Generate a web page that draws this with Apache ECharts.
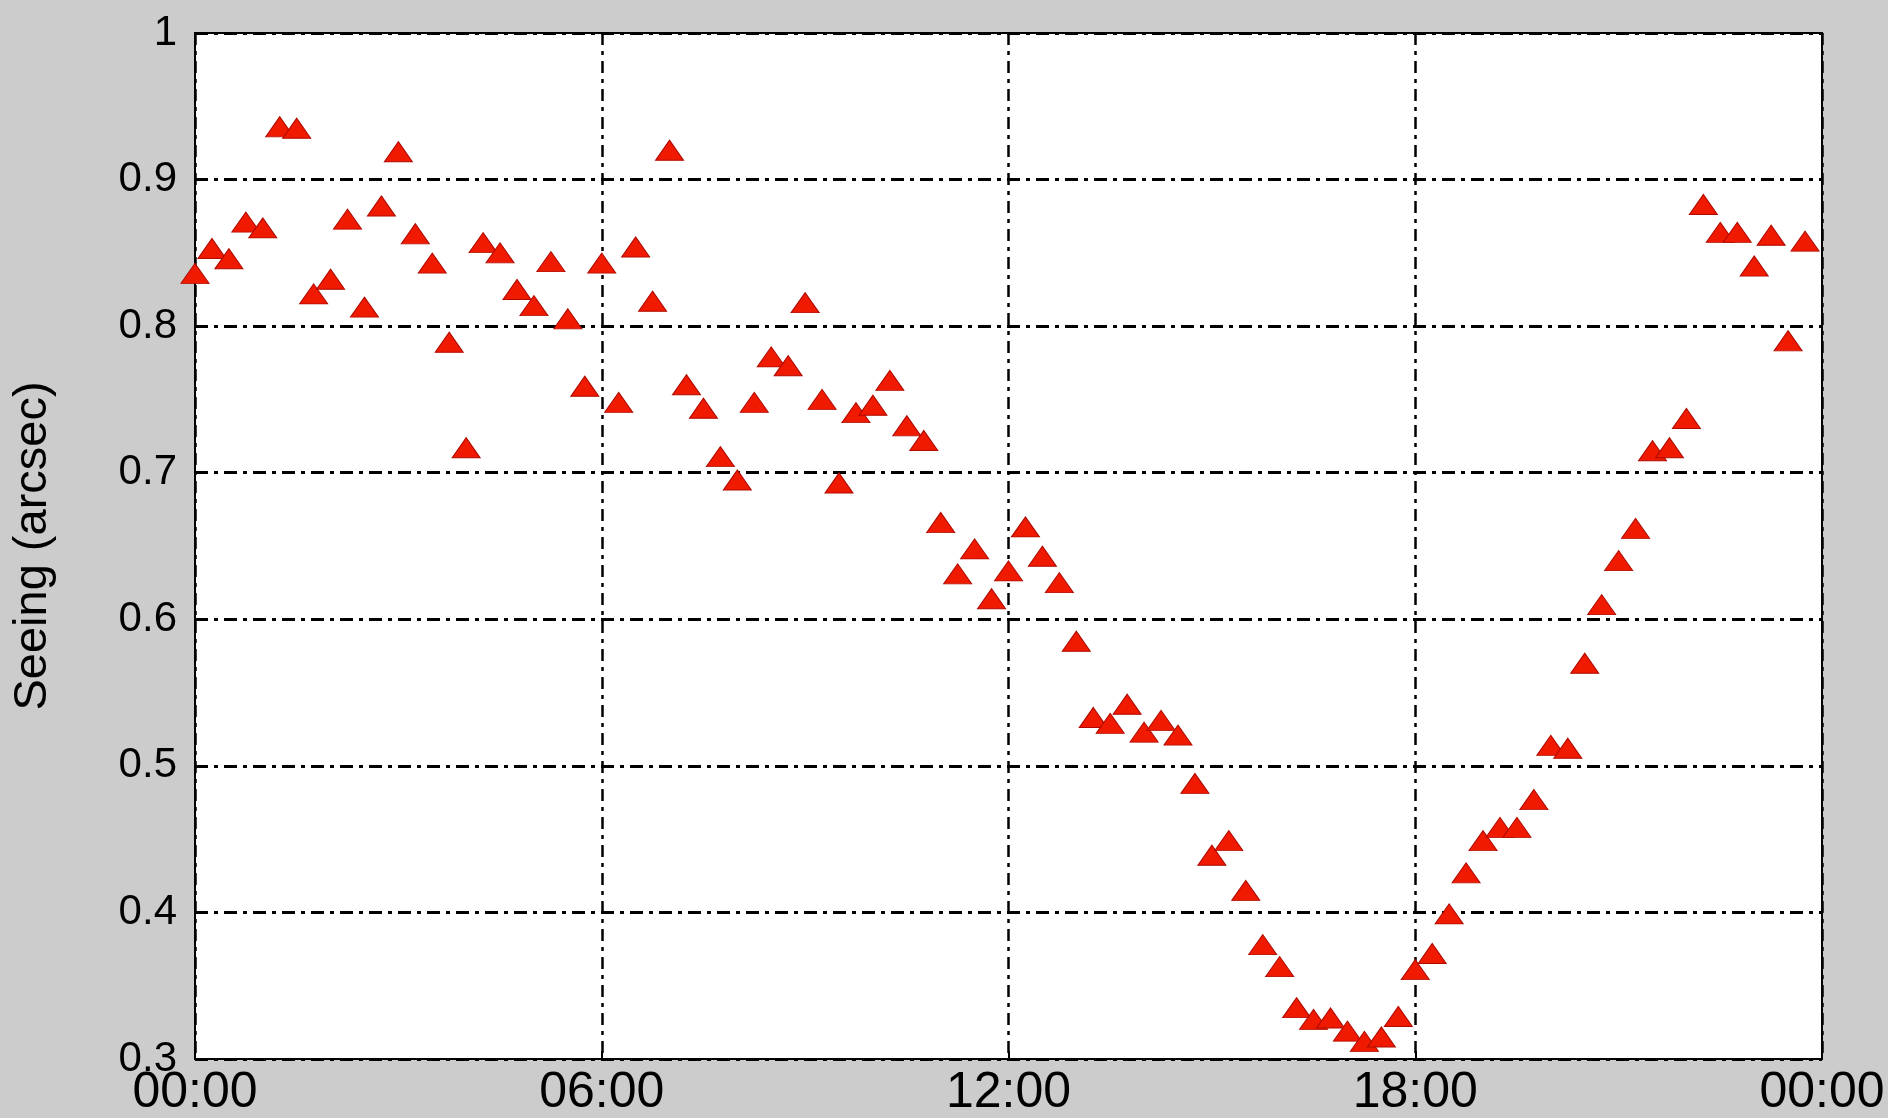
<!DOCTYPE html>
<html>
<head>
<meta charset="utf-8">
<script src="https://cdn.jsdelivr.net/npm/echarts@6/dist/echarts.min.js"></script>
<style>
html,body{margin:0;padding:0;background:#cccccc;}
#chart{width:1888px;height:1118px;}
</style>
</head>
<body>
<div id="chart"></div>
<script>
const times = [
"00:00","00:15","00:30","00:45","01:00","01:15","01:30","01:45",
"02:00","02:15","02:30","02:45","03:00","03:15","03:30","03:45",
"04:00","04:15","04:30","04:45","05:00","05:15","05:30","05:45",
"06:00","06:15","06:30","06:45","07:00","07:15","07:30","07:45",
"08:00","08:15","08:30","08:45","09:00","09:15","09:30","09:45",
"10:00","10:15","10:30","10:45","11:00","11:15","11:30","11:45",
"12:00","12:15","12:30","12:45","13:00","13:15","13:30","13:45",
"14:00","14:15","14:30","14:45","15:00","15:15","15:30","15:45",
"16:00","16:15","16:30","16:45","17:00","17:15","17:30","17:45",
"18:00","18:15","18:30","18:45","19:00","19:15","19:30","19:45",
"20:00","20:15","20:30","20:45","21:00","21:15","21:30","21:45",
"22:00","22:15","22:30","22:45","23:00","23:15","23:30","23:45"
];
const seeing = [
0.836,0.853,0.846,0.871,0.867,0.936,0.935,0.822,
0.832,0.873,0.813,0.882,0.919,0.863,0.843,0.789,
0.717,0.857,0.850,0.825,0.814,0.844,0.805,0.759,
0.843,0.748,0.854,0.817,0.920,0.760,0.744,0.711,
0.695,0.748,0.779,0.773,0.816,0.750,0.693,0.741,
0.746,0.763,0.732,0.722,0.666,0.631,0.648,0.614,
0.633,0.663,0.643,0.625,0.585,0.533,0.529,0.542,
0.523,0.531,0.521,0.488,0.439,0.449,0.415,0.378,
0.363,0.335,0.327,0.328,0.319,0.312,0.315,0.329,
0.361,0.372,0.399,0.427,0.449,0.458,0.458,0.477,
0.514,0.512,0.570,0.610,0.640,0.662,0.715,0.717,
0.737,0.883,0.864,0.864,0.841,0.862,0.790,0.858
];
const xTickLabels = ["00:00","06:00","12:00","18:00","00:00"];
const yTickLabels = ["0.3","0.4","0.5","0.6","0.7","0.8","0.9","1"];
const yAxisTitle = "Seeing (arcsec)";

function toHours(s){ const p = s.split(":"); return Number(p[0]) + Number(p[1]) / 60; }
const points = times.map((t, i) => [toHours(t), seeing[i]]);

const chart = echarts.init(document.getElementById('chart'), null, {renderer:'canvas'});
const font = "'Liberation Sans', Arial, Helvetica, sans-serif";
chart.setOption({
  backgroundColor: '#cccccc',
  animation: false,
  grid: {
    left: 195, right: 66, top: 33, bottom: 58,
    show: true, backgroundColor: '#ffffff', borderColor: '#000000', borderWidth: 2
  },
  xAxis: {
    type: 'value', min: 0, max: 24, interval: 6,
    axisLine: {show: false},
    axisTick: {show: true, inside: true, length: 8, lineStyle: {color: '#000', width: 2}},
    axisLabel: {
      color: '#000', fontSize: 50, fontFamily: font, margin: 9,
      formatter: v => xTickLabels[Math.round(v / 6)]
    },
    splitLine: {show: true, lineStyle: {color: '#000', width: 2.5, type: [12, 6, 4, 6]}}
  },
  yAxis: {
    type: 'value', min: 0.3, max: 1, interval: 0.1,
    name: yAxisTitle, nameLocation: 'middle', nameGap: 138,
    nameTextStyle: {color: '#000', fontSize: 47, fontFamily: font},
    axisLine: {show: false},
    axisTick: {show: true, inside: true, length: 8, lineStyle: {color: '#000', width: 2}},
    axisLabel: {
      color: '#000', fontSize: 42, fontFamily: font, margin: 18,
      formatter: v => yTickLabels[Math.round((v - 0.3) * 10)]
    },
    splitLine: {show: true, lineStyle: {color: '#000', width: 3, type: [13, 6, 4, 6]}}
  },
  series: [{
    type: 'scatter',
    data: points,
    symbol: 'triangle',
    symbolSize: [28, 20],
    itemStyle: {color: '#f01a00', borderColor: '#b00a00', borderWidth: 1, opacity: 1},
    z: 5
  }]
});
</script>
</body>
</html>
